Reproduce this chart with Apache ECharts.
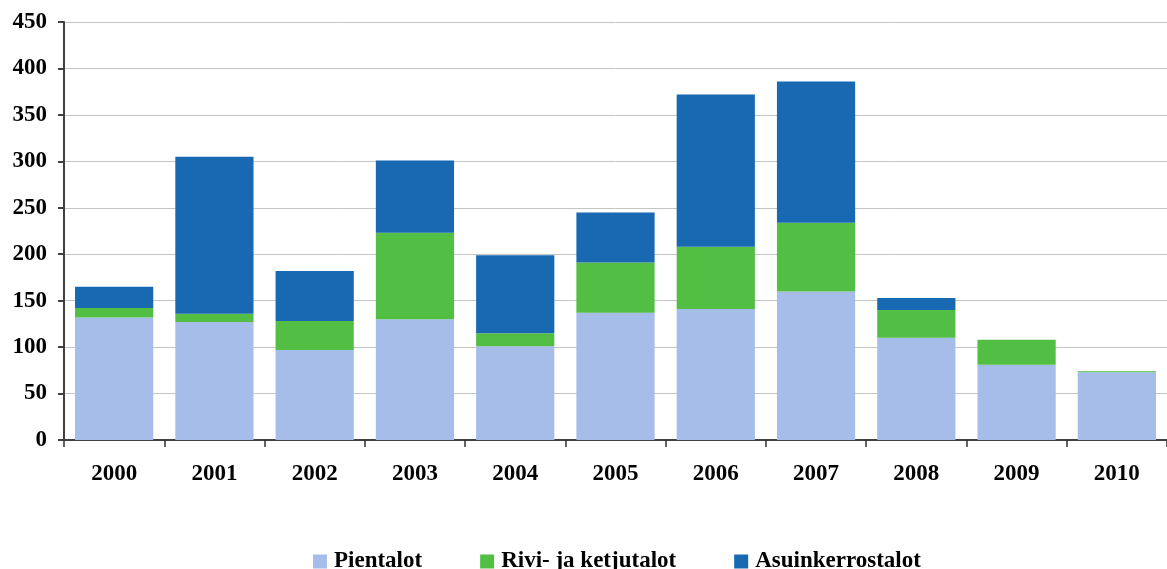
<!DOCTYPE html>
<html>
<head>
<meta charset="utf-8">
<script src="https://cdn.jsdelivr.net/npm/echarts@6/dist/echarts.min.js"></script>
<style>
  html, body { margin:0; padding:0; background:#fff; }
  #chart { width:1167px; height:569px; }
</style>
</head>
<body>
<div id="chart"></div>
<script>
/* vuodet */
const years = ['2000','2001','2002','2003','2004','2005','2006','2007','2008','2009','2010']

/* sarjat (pinottu) */
const pientalot        = [132, 127,  97, 130, 101, 137, 141, 160, 110,  81, 73]
const riviJaKetjutalot = [ 10,   9,  31,  93,  14,  54,  67,  74,  30,  27,  1]
const asuinkerrostalot = [ 23, 169,  54,  78,  84,  54, 164, 152,  13,   0,  0]

const seriesNames = ['Pientalot', 'Rivi- ja ketjutalot', 'Asuinkerrostalot']
const colors = ['#A6BCE9', '#52BE43', '#1869B2']

const font = '"Liberation Serif", "Times New Roman", serif'

const chart = echarts.init(document.getElementById('chart'))

function bar(name, data, color) {
  return {
    name, type:'bar', stack:'all', data,
    barCategoryGap:'22%',
    itemStyle:{ color },
    emphasis:{ disabled:true }
  }
}

chart.setOption({
  animation:false,
  textStyle:{ fontFamily:font },
  grid:{ left:64, right:0, top:22, bottom:129, containLabel:false },
  legend:{
    top:550, left:313, padding:0,
    itemWidth:14, itemHeight:14, itemGap:58,
    icon:'rect',
    textStyle:{ fontFamily:font, fontWeight:'bold', fontSize:23, color:'#000', padding:[0,0,0,2] },
    data: seriesNames
  },
  xAxis:{
    type:'category',
    data: years,
    axisLine:{ lineStyle:{ color:'#404040', width:2 } },
    axisTick:{ show:true, length:7, interval:0, lineStyle:{ color:'#303030', width:1.5 } },
    axisLabel:{ margin:23, fontFamily:font, fontWeight:'bold', fontSize:23, color:'#000' }
  },
  yAxis:{
    type:'value',
    min:0, max:450, interval:50,
    axisLine:{ show:true, lineStyle:{ color:'#404040', width:2 } },
    axisTick:{ show:true, length:6, lineStyle:{ color:'#404040', width:2 } },
    axisLabel:{ margin:17, fontFamily:font, fontWeight:'bold', fontSize:23, color:'#000' },
    splitLine:{ lineStyle:{ color:'#c4c4c4', width:1 } }
  },
  series:[
    bar(seriesNames[0], pientalot, colors[0]),
    bar(seriesNames[1], riviJaKetjutalot, colors[1]),
    bar(seriesNames[2], asuinkerrostalot, colors[2])
  ]
})
</script>
</body>
</html>
